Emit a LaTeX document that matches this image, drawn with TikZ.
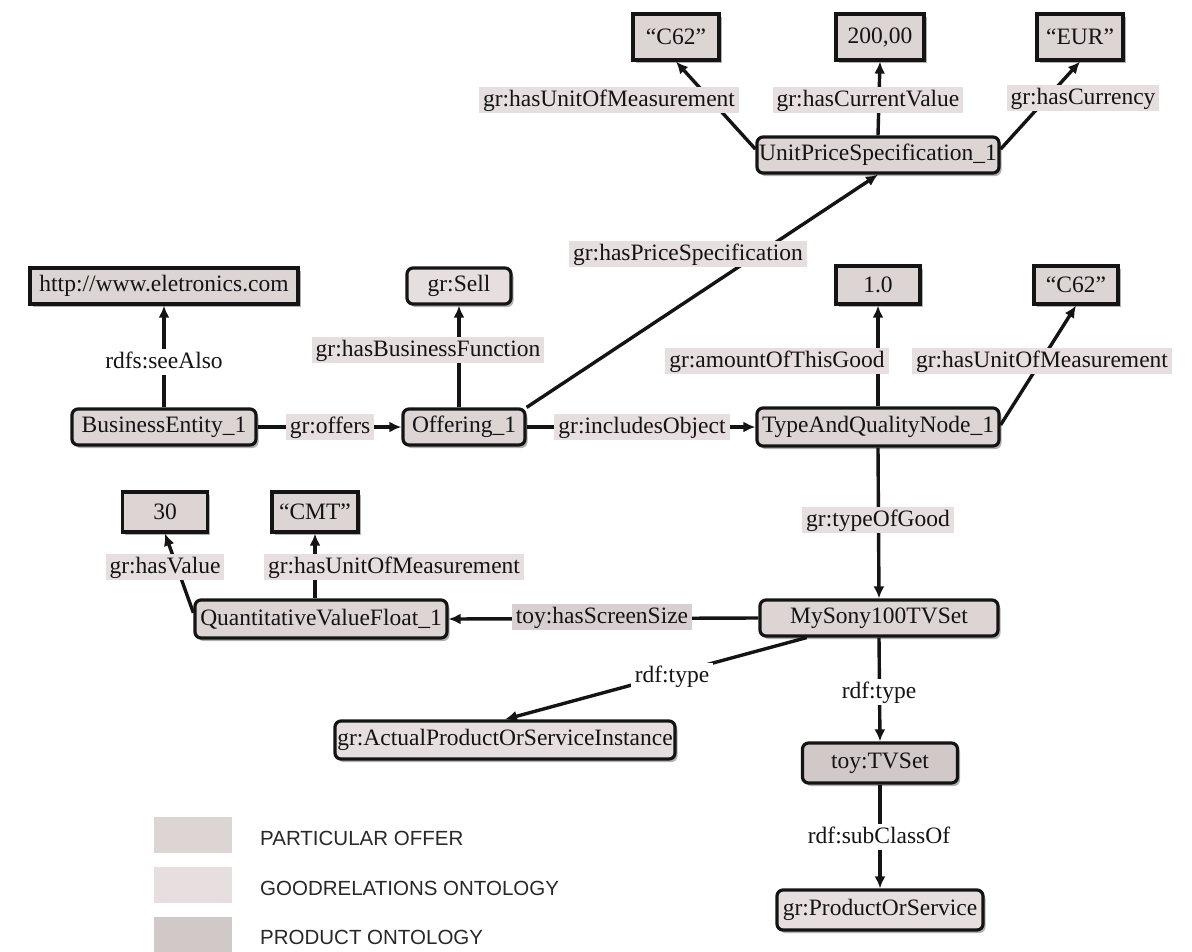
\documentclass[tikz,border=0pt]{standalone}
\usepackage{fontspec}
\setmainfont{Liberation Serif}
\newfontfamily\legendfont{Liberation Sans}
\usetikzlibrary{arrows.meta,shadows,calc}
\definecolor{offerfill}{RGB}{221,212,212}
\definecolor{grfill}{RGB}{231,223,223}
\definecolor{prodfill}{RGB}{209,200,200}
\definecolor{ink}{RGB}{20,20,20}
\definecolor{legendink}{RGB}{40,40,40}

\begin{document}
\begin{tikzpicture}[x=1pt,y=-1pt,
  font=\fontsize{23.5}{28}\selectfont,
  every node/.style={text=ink},
  sz/.style 2 args={minimum width=#1pt,minimum height=#2pt},
  box/.style={draw=ink,line width=3.2pt,inner sep=0pt,anchor=center,
    drop shadow={shadow xshift=2.5pt,shadow yshift=-3pt,opacity=0.3,fill=black}},
  res/.style={box,rounded corners=6pt},
  lit/.style={box,fill=offerfill},
  offer/.style={fill=offerfill},
  grterm/.style={fill=grfill},
  prodterm/.style={fill=prodfill},
  link/.style={draw=ink,line width=3.4pt,-{Latex[length=12pt,width=11pt]}},
  lab/.style={inner xsep=4pt,inner ysep=2pt,text height=17pt,text depth=5pt},
  glab/.style={lab,fill=grfill},
  plab/.style={lab,fill=prodfill!85!white},
  wlab/.style={lab,fill=white},
  swatch/.style={minimum width=78pt,minimum height=36pt,inner sep=0pt},
  keytext/.style={anchor=west,text=legendink,inner sep=0pt,
    font=\legendfont\fontsize{20.5}{24}\selectfont}
]
\useasboundingbox[fill=white] (0,0) rectangle (1192,951);

% price specification and its literals
\node[lit,sz={86}{46}] (c62a) at (676,37) {“C62”};
\node[lit,sz={88}{46}] (v200) at (880,37) {200,00};
\node[lit,sz={86}{46}] (eur) at (1080,37) {“EUR”};
\node[res,offer,sz={242}{36}] (ups) at (878,155) {UnitPriceSpecification\_1};

% business entity, offering and type-and-quality node
\node[lit,sz={268}{36}] (http) at (164,286) {http://www.eletronics.com};
\node[res,grterm,sz={104}{36}] (sell) at (459,286) {gr:Sell};
\node[lit,sz={84}{38}] (one) at (878,285) {1.0};
\node[lit,sz={84}{38}] (c62b) at (1076,285) {“C62”};
\node[res,offer,sz={184}{36}] (be) at (164,427) {BusinessEntity\_1};
\node[res,offer,sz={122}{36}] (off) at (464,427) {Offering\_1};
\node[res,offer,sz={242}{38}] (taqn) at (878,427) {TypeAndQualityNode\_1};

% product and its screen size
\node[lit,sz={85}{40}] (n30) at (165,512) {30};
\node[lit,sz={86}{40}] (cmt) at (315,512) {“CMT”};
\node[res,offer,sz={252}{38}] (qvf) at (321,619) {QuantitativeValueFloat\_1};
\node[res,offer,sz={238}{36}] (mysony) at (879,618) {MySony100TVSet};
\node[res,grterm,sz={340}{38}] (actual) at (505,740) {gr:ActualProductOrServiceInstance};
\node[res,prodterm,sz={155}{40}] (tvset) at (880,763) {toy:TVSet};
\node[res,grterm,sz={206}{40}] (pos) at (880,910) {gr:ProductOrService};

% connectors
\draw[link] ($(ups.north west)!0.35!(ups.south west)$) -- (c62a.south);
\draw[link] (ups.north) -- (v200.south);
\draw[link] ($(ups.north east)!0.35!(ups.south east)$) -- (eur.south);
\draw[link] (be.north) -- (http.south);
\draw[link] (off.north -| sell.south) -- (sell.south);
\draw[link] (be.east) -- (off.west);
\draw[link] (off.north east) -- (ups.south);
\draw[link] (off.east) -- (taqn.west);
\draw[link] (taqn.north) -- (one.south);
\draw[link] ($(taqn.north east)!0.45!(taqn.south east)$) -- (c62b.south);
\draw[link] (taqn.south) -- (mysony.north);
\draw[link] (mysony.west) -- (qvf.east);
\draw[link] ($(qvf.north west)!0.35!(qvf.south west)$) -- (n30.south);
\draw[link] (qvf.north -| cmt.south) -- (cmt.south);
\draw[link] ($(mysony.south west)!0.2!(mysony.south east)$) -- (actual.north);
\draw[link] (mysony.south) -- (tvset.north);
\draw[link] (tvset.south) -- (pos.north);

% property labels
\node[glab] (lunit1) at (609,100) {gr:hasUnitOfMeasurement};
\node[glab] (lcurval) at (868,100) {gr:hasCurrentValue};
\node[glab] (lcurr) at (1083,98) {gr:hasCurrency};
\node[glab] (lprice) at (688,254) {gr:hasPriceSpecification};
\node[wlab] (lsee) at (164,362) {rdfs:seeAlso};
\node[glab] (lbf) at (428,350) {gr:hasBusinessFunction};
\node[glab] (loffers) at (330,427) {gr:offers};
\node[glab] (lincl) at (642,427) {gr:includesObject};
\node[glab] (lamount) at (777,361) {gr:amountOfThisGood};
\node[glab] (lunit2) at (1042,361) {gr:hasUnitOfMeasurement};
\node[glab] (ltype) at (878,520) {gr:typeOfGood};
\node[glab] (lval) at (165,567) {gr:hasValue};
\node[glab] (lunit3) at (394,567) {gr:hasUnitOfMeasurement};
\node[plab] (lscreen) at (602,617) {toy:hasScreenSize};
\node[wlab] (lrdf1) at (672,676) {rdf:type};
\node[wlab] (lrdf2) at (879,692) {rdf:type};
\node[wlab] (lsub) at (879,837) {rdf:subClassOf};

% legend
\node[swatch,fill=offerfill] (k1) at (193,835) {};
\node[swatch,fill=grfill] (k2) at (193,885) {};
\node[swatch,fill=prodfill] (k3) at (193,935) {};
\node[keytext] (t1) at (260,838) {PARTICULAR OFFER};
\node[keytext] (t2) at (260,888) {GOODRELATIONS ONTOLOGY};
\node[keytext] (t3) at (260,937) {PRODUCT ONTOLOGY};
\end{tikzpicture}
\end{document}
